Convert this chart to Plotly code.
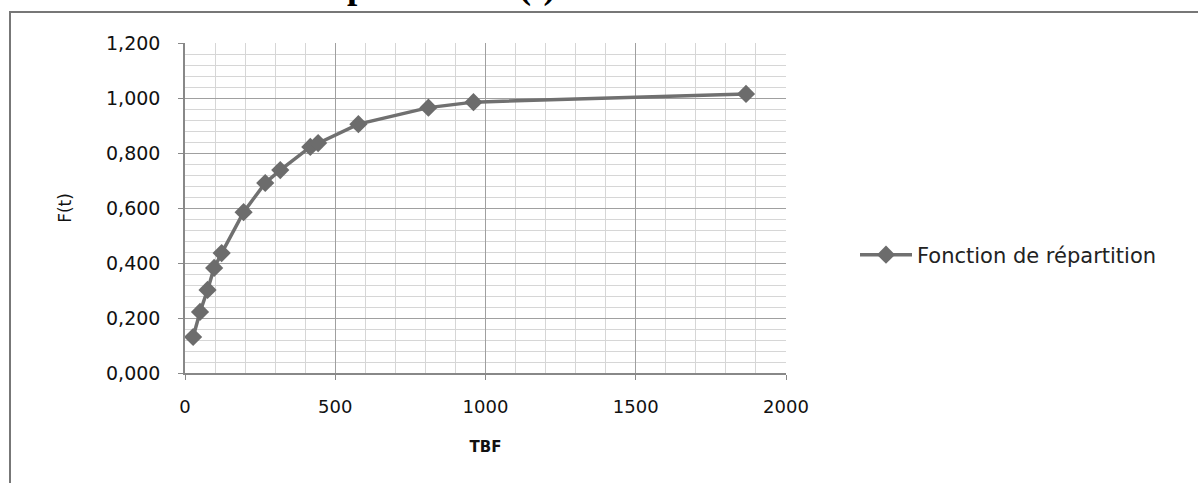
import plotly.graph_objects as go

tbf = [27, 50, 75, 97, 122, 195, 267, 317, 417, 443, 577, 810, 960, 1867]
ft = [0.131, 0.222, 0.302, 0.382, 0.436, 0.585, 0.691, 0.738, 0.822, 0.836, 0.905, 0.965, 0.985, 1.015]
y_ticks = [0.0, 0.2, 0.4, 0.6, 0.8, 1.0, 1.2]
y_labels = ["0,000", "0,200", "0,400", "0,600", "0,800", "1,000", "1,200"]
x_ticks = [0, 500, 1000, 1500, 2000]
x_labels = ["0", "500", "1000", "1500", "2000"]
series_name = "Fonction de répartition"

W, H = 1198, 483
L, R, T, B = 185, 412, 43, 110
pw, ph = W - L - R, H - T - B

fig = go.Figure()
fig.add_trace(go.Scatter(
    x=tbf, y=ft, mode="lines+markers", name=series_name,
    line=dict(color="#707070", width=3.5),
    marker=dict(symbol="diamond", size=14, color="#6c6c6c"),
))

font = "DejaVu Sans, sans-serif"
fig.update_layout(
    width=W, height=H,
    margin=dict(l=L, r=R, t=T, b=B),
    paper_bgcolor="white", plot_bgcolor="white",
    showlegend=True,
    legend=dict(x=(855 - L) / pw, y=(373 - 255) / ph, xanchor="left", yanchor="middle",
                font=dict(family=font, size=21, color="#222"), bgcolor="rgba(0,0,0,0)",
                itemwidth=52),
    xaxis=dict(range=[0, 2000], tickvals=x_ticks, ticktext=x_labels,
               showgrid=True, gridcolor="#a0a0a0", gridwidth=1,
               minor=dict(dtick=100, showgrid=True, gridcolor="#d6d6d6", gridwidth=1),
               showline=True, linecolor="#888", linewidth=1.5,
               ticks="outside", ticklen=5, tickcolor="#888",
               tickfont=dict(family=font, size=18, color="#111"), ticklabelstandoff=12,
               title=dict(text="<b>TBF</b>", font=dict(family=font, size=15, color="#111"), standoff=25),
               zeroline=False),
    yaxis=dict(range=[0, 1.2], tickvals=y_ticks, ticktext=y_labels,
               showgrid=True, gridcolor="#a0a0a0", gridwidth=1,
               minor=dict(dtick=0.04, showgrid=True, gridcolor="#d6d6d6", gridwidth=1),
               showline=True, linecolor="#888", linewidth=1.5,
               ticks="outside", ticklen=5, tickcolor="#888",
               tickfont=dict(family=font, size=19, color="#111"), ticklabelstandoff=14,
               title=dict(text="F(t)", font=dict(family=font, size=17, color="#111"), standoff=30),
               zeroline=False),
)

# outer frame of the embedded chart
fig.add_shape(type="rect", xref="paper", yref="paper",
              x0=(10 - L) / pw, x1=(1215 - L) / pw,
              y0=(373 - 500) / ph, y1=(373 - 12) / ph,
              line=dict(color="#777", width=2), fillcolor="rgba(0,0,0,0)", layer="below")

# clipped page heading above the chart
fig.add_annotation(xref="paper", yref="paper", x=(337 - L) / pw, y=(373 - 9) / ph,
                   xanchor="center", yanchor="bottom", showarrow=False,
                   text="<b>Fonction de répartition F(t)</b>",
                   font=dict(family="Liberation Serif, serif", size=37, color="black"))

fig.write_html("out.html")
